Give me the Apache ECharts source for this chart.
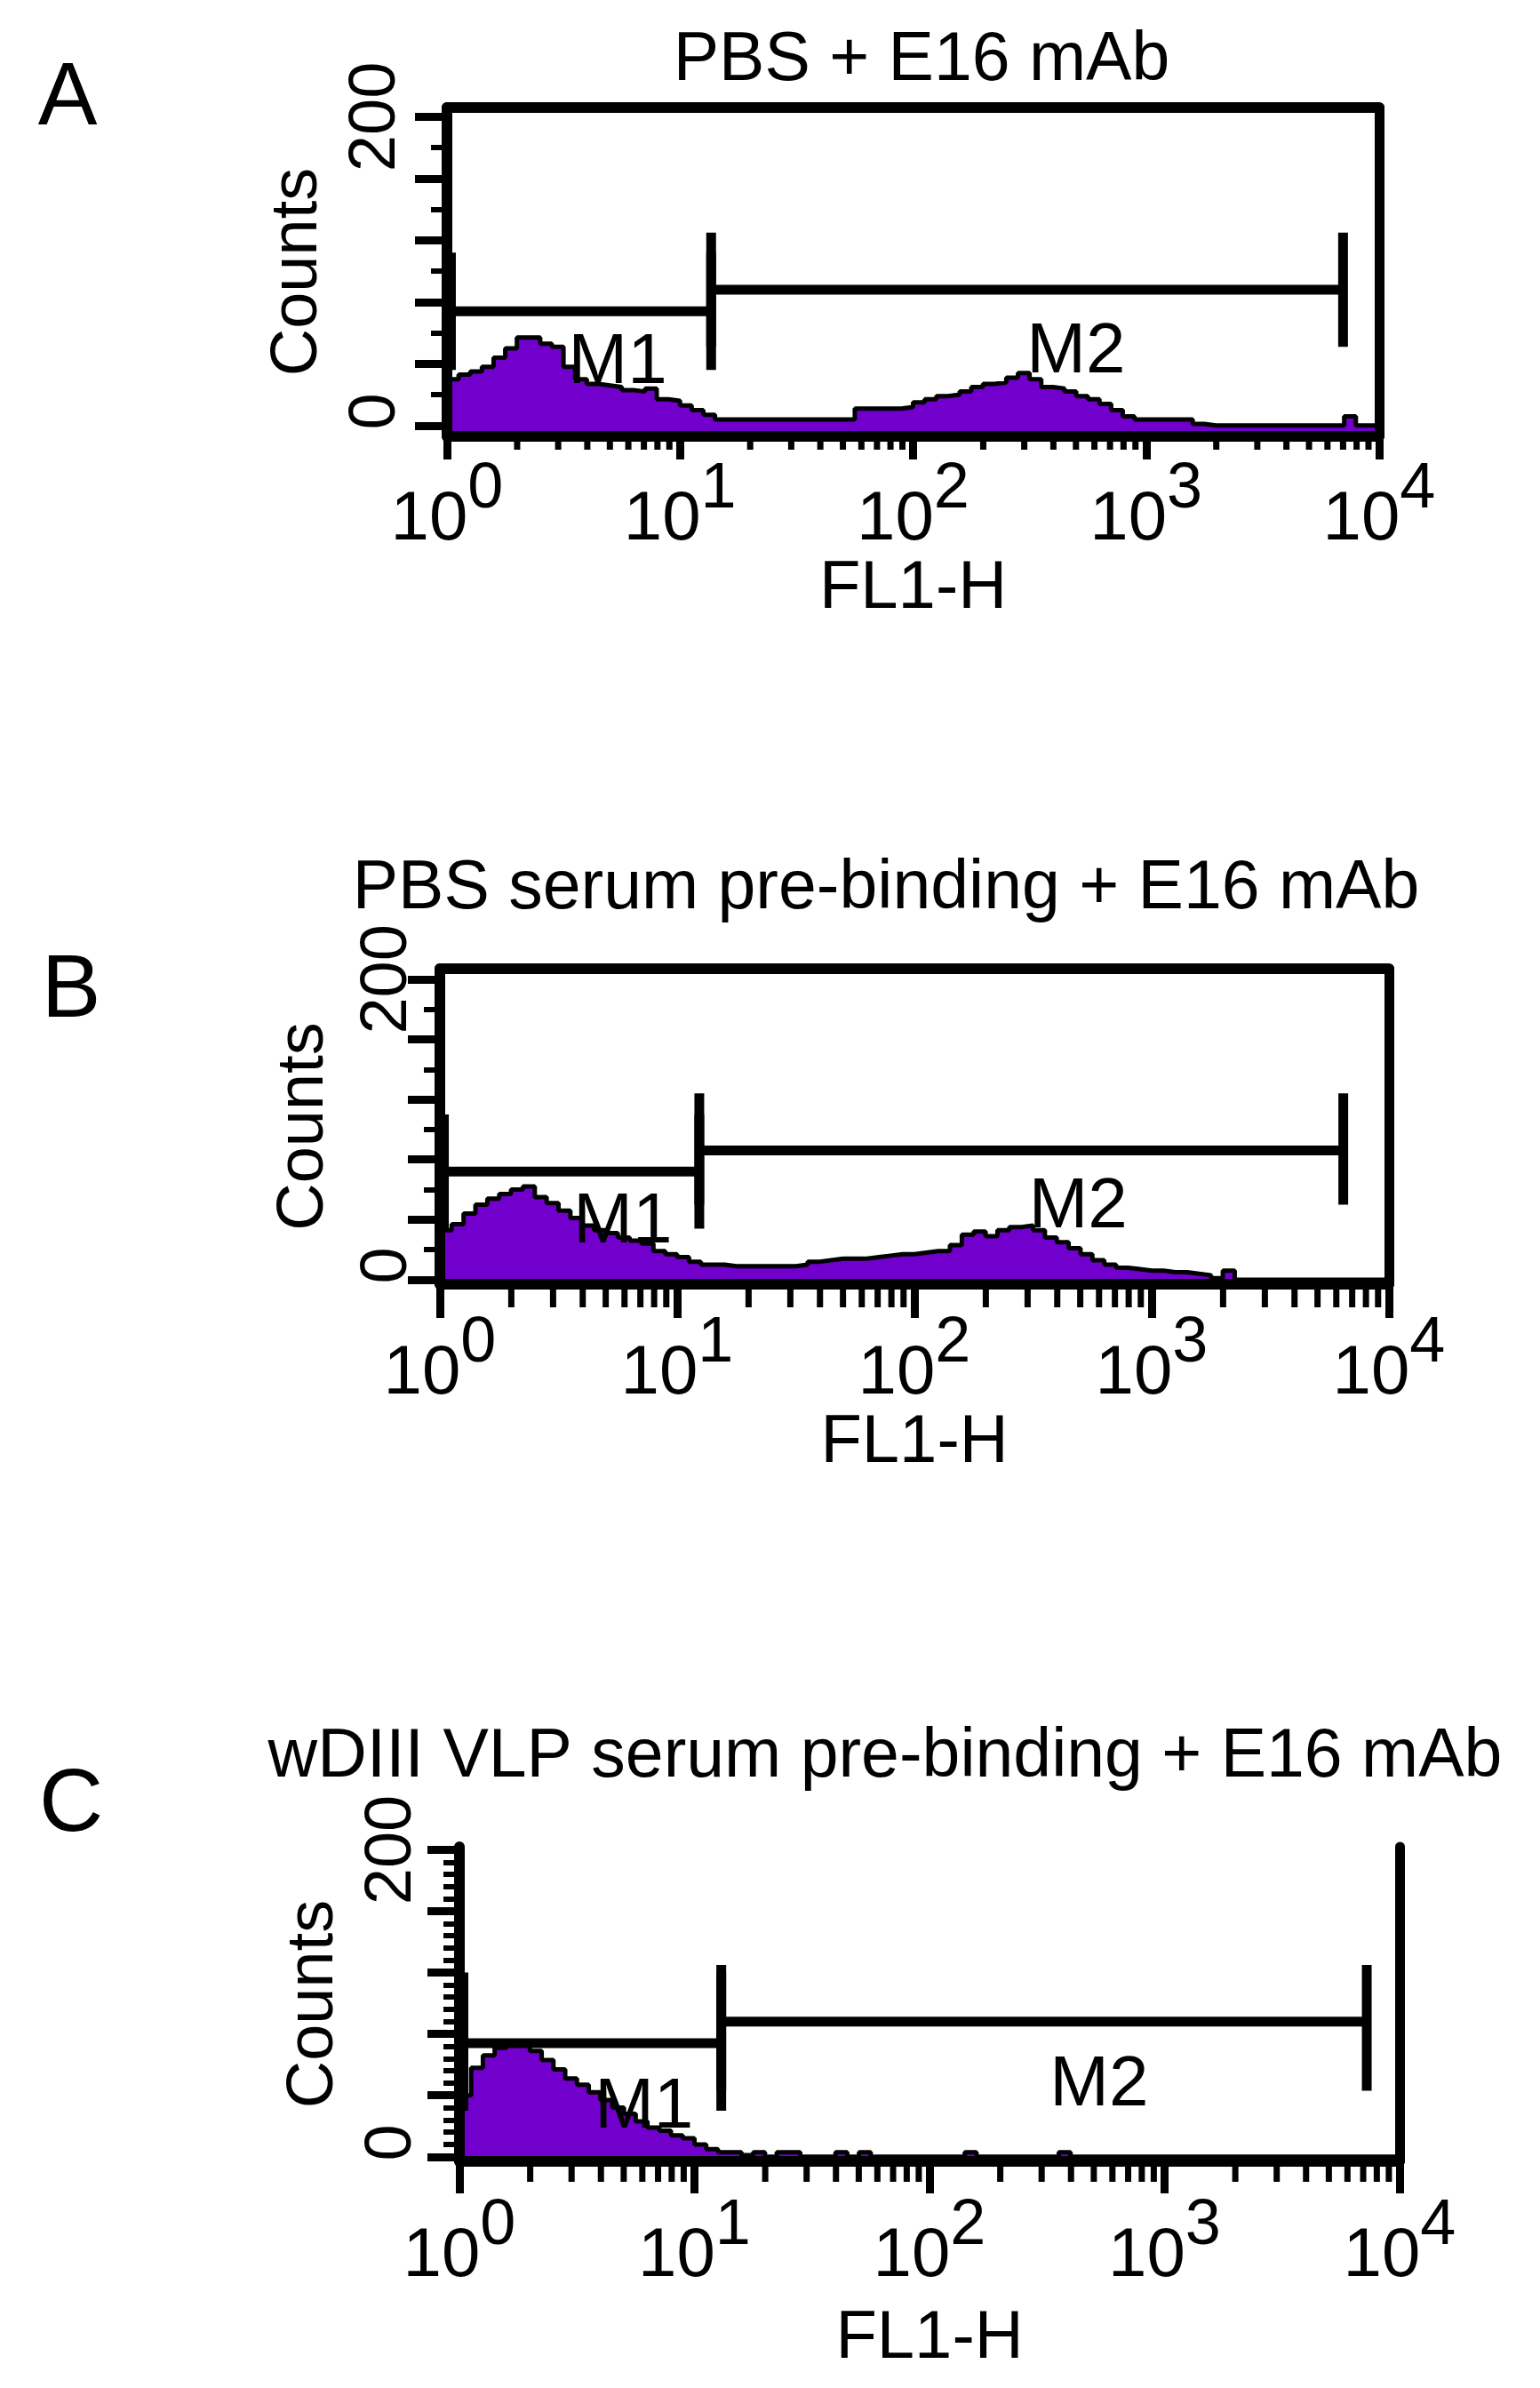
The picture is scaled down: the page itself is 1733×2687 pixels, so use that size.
<!DOCTYPE html>
<html>
<head>
<meta charset="utf-8">
<title>FL1-H histograms</title>
<script src="https://cdn.jsdelivr.net/npm/echarts@6/dist/echarts.min.js"></script>
<style>
html, body { margin: 0; padding: 0; background: #fff; }
#main { width: 1733px; height: 2687px; }
</style>
</head>
<body>
<div id="main"></div>
<script>
var FONT = "'Liberation Sans', Arial, sans-serif";

// one count per bin, bins every 0.05 decade from 10^0 to 10^4
var binStep = 0.05;

var countsA = [30, 33, 35, 38, 44, 50, 57, 57, 53, 51,
               38, 30, 27, 26, 25, 23, 22, 24, 17, 16,
               13, 10, 7, 4, 4, 4, 4, 4, 4, 4,
               4, 4, 4, 4, 4, 11, 11, 11, 11, 12,
               15, 17, 19, 20, 22, 25, 27, 28, 31, 34,
               30, 25, 24, 22, 19, 17, 14, 10, 6, 4,
               4, 4, 4, 4, 1, 0, 0, 0, 0, 0,
               0, 0, 0, 0, 0, 0, 0, 6, 0, 0,
               0];

var countsB = [33, 37, 44, 50, 54, 57, 60, 62, 55, 51,
               46, 41, 36, 33, 31, 28, 26, 24, 19, 17,
               15, 12, 10, 10, 9, 9, 9, 9, 9, 9,
               10, 12, 13, 14, 14, 14, 15, 16, 17, 17,
               18, 19, 19, 23, 30, 32, 29, 33, 35, 36,
               33, 28, 25, 21, 17, 13, 10, 8, 7, 6,
               6, 5, 5, 4, 3, 1, 6, 0, 0, 0,
               0, 0, 0, 0, 0, 0, 0, 0, 0, 0,
               0];

var countsC = [40, 58, 66, 71, 73, 73, 69, 63, 57, 51,
               47, 42, 37, 32, 28, 23, 19, 17, 14, 12,
               8, 5, 3, 3, 1, 3, 0, 3, 3, 0,
               0, 0, 3, 0, 3, 0, 0, 0, 0, 0,
               0, 0, 0, 3, 0, 0, 0, 0, 0, 0,
               0, 3, 0, 0, 0, 0, 0, 0, 0, 0,
               0, 0, 0, 0, 0, 0, 0, 0, 0, 0,
               0, 0, 0, 0, 0, 0, 0, 0, 0, 0,
               0];

// markers: [from, to, bar level, end tick low, end tick high]
var gatesA = [[1.04, 13.6, 74, 36, 112], [13.6, 7000, 88, 51, 125]];
var gatesB = [[1.04, 12.4, 72, 34, 110], [12.4, 6420, 86, 50, 124]];
var gatesC = [[1.04, 13.0, 74, 30, 120], [13.0, 7250, 88, 43, 125]];

// marker names: [name, FL1-H, counts]
var gateNamesA = [['M1', 5.4, 40], ['M2', 500, 47]];
var gateNamesB = [['M1', 5.9, 38], ['M2', 490, 48]];
var gateNamesC = [['M1', 6.1, 32], ['M2', 527, 46]];

var titles = ['PBS + E16 mAb', 'PBS serum pre-binding + E16 mAb', 'wDIII VLP serum pre-binding + E16 mAb'];
var letters = ['A', 'B', 'C'];

var yTicks = [0, 40, 80, 120, 160, 200];
var yLabels = [0, 200];
var yMinorAB = [20, 60, 100, 140, 180];
var yMinorC = [8, 16, 24, 32, 48, 56, 64, 72, 88, 96, 104, 112, 128, 136, 144, 152, 168, 176, 184, 192];
var xMinor = [2, 3, 4, 5, 6, 7, 8, 9,
              20, 30, 40, 50, 60, 70, 80, 90,
              200, 300, 400, 500, 600, 700, 800, 900,
              2000, 3000, 4000, 5000, 6000, 7000, 8000, 9000];

var panels = [
	{counts: countsA, gates: gatesA, names: gateNamesA, yMinor: yMinorAB,
	 left: 503, top: 121, width: 1049, height: 370, yMin: -7, yMax: 206, box: true,
	 letterPos: [76, 112], titlePos: [1037, 69], majorLen: 26, minorLen: 15,
	 yLabelMargin: 42, yNameGap: 130, xLabelMargin: 24, xNameGap: 118},
	{counts: countsB, gates: gatesB, names: gateNamesB, yMinor: yMinorAB,
	 left: 495, top: 1090, width: 1068, height: 355, yMin: -3, yMax: 207, box: true,
	 letterPos: [80, 1116], titlePos: [997, 1001], majorLen: 38, minorLen: 26,
	 yLabelMargin: 21, yNameGap: 115, xLabelMargin: 31, xNameGap: 139},
	{counts: countsC, gates: gatesC, names: gateNamesC, yMinor: yMinorC,
	 left: 517, top: 2078, width: 1058, height: 354, yMin: -3, yMax: 202, box: false,
	 letterPos: [80, 2032], titlePos: [996, 1978], majorLen: 36, minorLen: 23,
	 yLabelMargin: 38, yNameGap: 126, xLabelMargin: 37, xNameGap: 162}
];

function binData(counts){
	var out = [];
	for (var i = 0; i < counts.length; i++) {
		out.push([Math.pow(10, i * binStep), counts[i]]);
	}
	return out;
}

function textStyle(text, size){
	return {
		text: text, fontSize: size, fontFamily: FONT, fill: '#000',
		align: 'center', verticalAlign: 'middle',
		textAlign: 'center', textVerticalAlign: 'middle'
	};
}

var option = {
	backgroundColor: '#fff',
	animation: false,
	grid: [], xAxis: [], yAxis: [], series: [], graphic: []
};

panels.forEach(function(p, i){
	option.grid.push({left: p.left, top: p.top, width: p.width, height: p.height, show: false});

	var xMain = option.xAxis.length;
	option.xAxis.push({
		type: 'log', logBase: 10, gridIndex: i, min: 1, max: 10000, position: 'bottom', z: 5,
		axisLine: {show: true, onZero: false, lineStyle: {color: '#000', width: 12}},
		axisTick: {show: true, length: p.majorLen, lineStyle: {color: '#000', width: 9}},
		splitLine: {show: false},
		axisLabel: {
			margin: p.xLabelMargin, fontSize: 78, fontFamily: FONT, color: '#000',
			formatter: function(v){
				return '{b|10}{e|' + Math.round(Math.log(v) / Math.LN10) + '}';
			},
			rich: {
				b: {fontSize: 78, fontFamily: FONT, color: '#000', lineHeight: 140},
				e: {fontSize: 72, fontFamily: FONT, color: '#000', lineHeight: 66, verticalAlign: 'top'}
			}
		},
		name: 'FL1-H', nameLocation: 'middle', nameGap: p.xNameGap,
		nameTextStyle: {fontSize: 76, fontFamily: FONT, color: '#000'}
	});
	// top edge of the frame
	option.xAxis.push({
		type: 'value', gridIndex: i, position: 'top', min: 0, max: 1, z: 5,
		axisLine: {show: p.box, onZero: false, lineStyle: {color: '#000', width: 12}},
		axisTick: {show: false}, axisLabel: {show: false}, splitLine: {show: false}
	});

	var yMain = option.yAxis.length;
	option.yAxis.push({
		type: 'value', gridIndex: i, min: p.yMin, max: p.yMax, position: 'left', z: 5,
		axisLine: {show: true, onZero: false, lineStyle: {color: '#000', width: 12}},
		axisTick: {show: true, customValues: yTicks, length: 36, lineStyle: {color: '#000', width: 9}},
		axisLabel: {customValues: yLabels, rotate: 90, margin: p.yLabelMargin,
			fontSize: 74, fontFamily: FONT, color: '#000',
			formatter: function(v){ return v === 0 ? '{z|0}' : '{n|' + v + '}'; },
			rich: {
				// the 0 label sits a little above its tick in the original
				z: {fontSize: 74, fontFamily: FONT, color: '#000', padding: [0, 0, 0, 32]},
				n: {fontSize: 74, fontFamily: FONT, color: '#000'}
			}},
		splitLine: {show: false},
		name: 'Counts', nameLocation: 'middle', nameRotate: 90, nameGap: p.yNameGap,
		nameTextStyle: {fontSize: 74, fontFamily: FONT, color: '#000'}
	});
	// small ticks between the labelled ones
	option.yAxis.push({
		type: 'value', gridIndex: i, min: p.yMin, max: p.yMax, position: 'left', z: 5,
		axisLine: {show: false, onZero: false},
		axisTick: {show: true, customValues: p.yMinor, length: 18, lineStyle: {color: '#000', width: 6}},
		axisLabel: {show: false}, splitLine: {show: false}
	});
	// right edge of the frame
	option.yAxis.push({
		type: 'value', gridIndex: i, position: 'right', min: 0, max: 1, z: 5,
		axisLine: {show: true, onZero: false, lineStyle: {color: '#000', width: 11}},
		axisTick: {show: false}, axisLabel: {show: false}, splitLine: {show: false}
	});

	// histogram
	option.series.push({
		type: 'line', xAxisIndex: xMain, yAxisIndex: yMain,
		data: binData(p.counts), step: 'end', symbol: 'none', z: 2,
		lineStyle: {color: '#000', width: 5},
		areaStyle: {color: '#7200cc', opacity: 1, origin: 'start'}
	});

	// log minor ticks under the axis
	option.series.push({
		type: 'custom', xAxisIndex: xMain, yAxisIndex: yMain, clip: false, silent: true, z: 6,
		data: xMinor.map(function(v){ return [v, p.yMin]; }),
		encode: {x: 0, y: 1},
		renderItem: function(params, api){
			var pt = api.coord([api.value(0), api.value(1)]);
			return {type: 'line', shape: {x1: pt[0], y1: pt[1], x2: pt[0], y2: pt[1] + p.minorLen},
				style: {stroke: '#000', lineWidth: 7}};
		}
	});

	// M1 / M2 markers
	option.series.push({
		type: 'custom', xAxisIndex: xMain, yAxisIndex: yMain, clip: false, silent: true, z: 8,
		data: p.gates,
		encode: {x: [0, 1], y: [2, 3, 4]},
		renderItem: function(params, api){
			var a = api.coord([api.value(0), api.value(2)]);
			var b = api.coord([api.value(1), api.value(2)]);
			var lo = api.coord([api.value(0), api.value(3)]);
			var hi = api.coord([api.value(0), api.value(4)]);
			var st = {stroke: '#000', lineWidth: 11};
			return {type: 'group', children: [
				{type: 'line', shape: {x1: a[0], y1: a[1], x2: b[0], y2: b[1]}, style: st},
				{type: 'line', shape: {x1: a[0], y1: lo[1], x2: a[0], y2: hi[1]}, style: st},
				{type: 'line', shape: {x1: b[0], y1: lo[1], x2: b[0], y2: hi[1]}, style: st}
			]};
		}
	});

	option.series.push({
		type: 'custom', xAxisIndex: xMain, yAxisIndex: yMain, clip: false, silent: true, z: 9,
		data: p.names.map(function(n){ return [n[1], n[2]]; }),
		encode: {x: 0, y: 1},
		renderItem: function(params, api){
			var pt = api.coord([api.value(0), api.value(1)]);
			return {type: 'text', x: pt[0], y: pt[1], style: textStyle(p.names[params.dataIndex][0], 80)};
		}
	});

	option.graphic.push({type: 'text', x: p.letterPos[0], y: p.letterPos[1], style: textStyle(letters[i], 100)});
	option.graphic.push({type: 'text', x: p.titlePos[0], y: p.titlePos[1], style: textStyle(titles[i], 77)});
});

var myChart = echarts.init(document.getElementById('main'));
myChart.setOption(option);
</script>
</body>
</html>
